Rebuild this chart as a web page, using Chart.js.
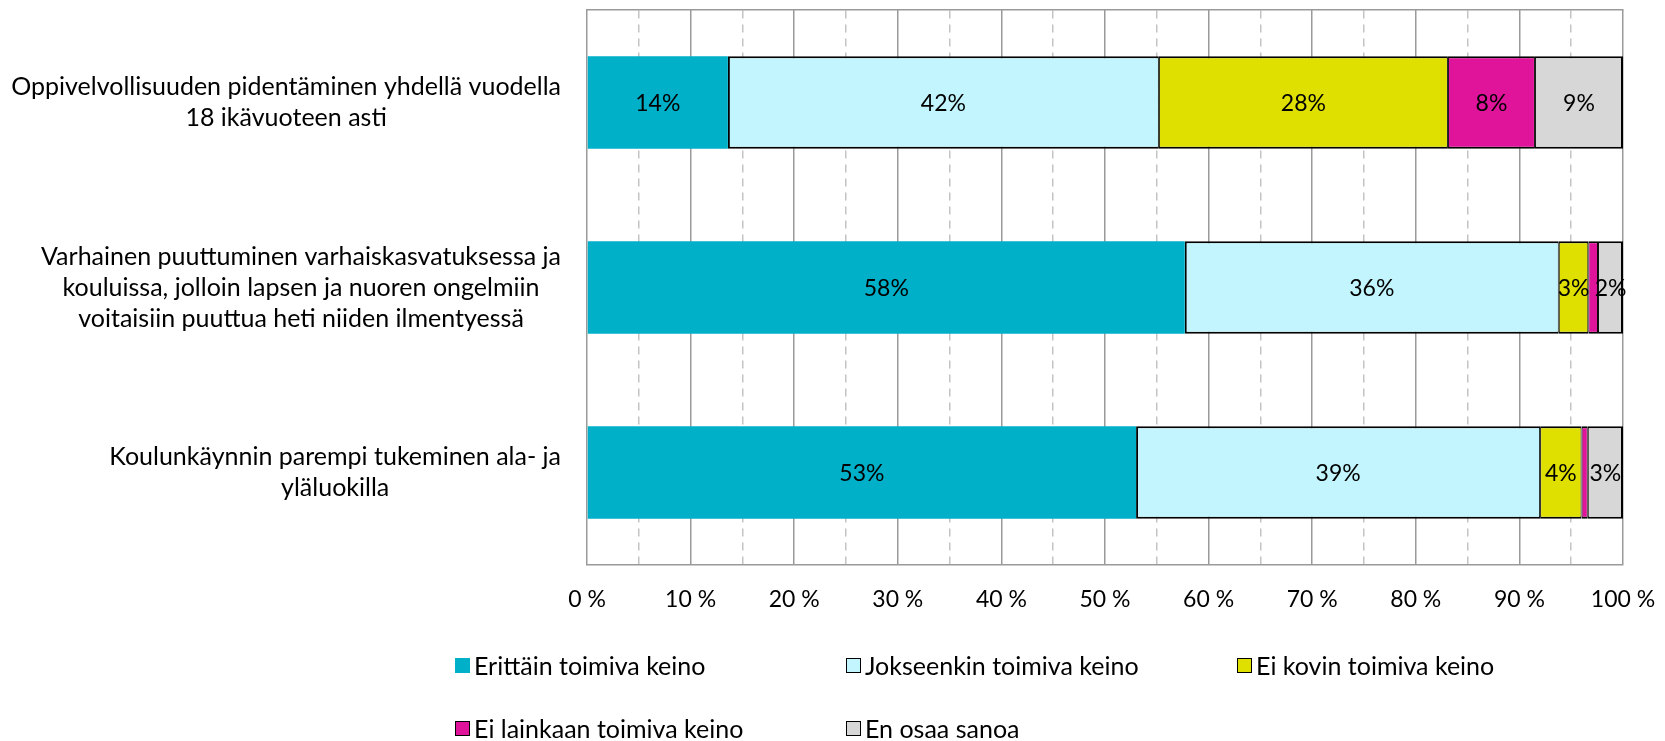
<!DOCTYPE html>
<html>
<head>
<meta charset="utf-8">
<script src="https://cdn.jsdelivr.net/npm/chart.js@4.4.1/dist/chart.umd.min.js"></script>
<style>
  html, body { margin: 0; padding: 0; background: #fff; }
  #wrap { position: relative; width: 1665px; height: 741px; }
  #c { position: absolute; left: 0; top: 0; }
  #legend { position: absolute; left: 455px; top: 650px; display: grid;
            grid-template-columns: 391px 391px 391px; grid-auto-rows: 63px;
            font-family: Lato, "Open Sans", sans-serif; font-size: 25px; color: #000; }
  .item { display: flex; align-items: center; height: 30px; }
  .sw { width: 15px; height: 15px; box-sizing: border-box; margin-right: 4px; }
</style>
</head>
<body>
<div id="wrap">
  <canvas id="c" width="1665" height="741"></canvas>
  <div id="legend"></div>
</div>
<script>
const categories = [
  ['Oppivelvollisuuden pidentäminen yhdellä vuodella', '18 ikävuoteen asti'],
  ['Varhainen puuttuminen varhaiskasvatuksessa ja', 'kouluissa, jolloin lapsen ja nuoren ongelmiin', 'voitaisiin puuttua heti niiden ilmentyessä'],
  ['Koulunkäynnin parempi tukeminen ala- ja', 'yläluokilla']
];
const seriesNames = ['Erittäin toimiva keino', 'Jokseenkin toimiva keino', 'Ei kovin toimiva keino', 'Ei lainkaan toimiva keino', 'En osaa sanoa'];
const erittain   = [13.6, 57.7, 53.0];
const jokseenkin = [41.6, 36.1, 39.0];
const eiKovin    = [27.9, 2.85, 4.0];
const eiLainkaan = [8.4, 0.94, 0.6];
const enOsaa     = [8.5, 2.41, 3.4];
const xTicks = [0, 10, 20, 30, 40, 50, 60, 70, 80, 90, 100];

const colors = ['#00AFC8', '#C2F5FD', '#DFE000', '#E0139B', '#D7D7D7'];
const borders = [null, '#000', '#000', '#000', '#000'];
const borderWidths = [
  0,
  { top: 2, bottom: 2, left: 2, right: 1 },
  { top: 2, bottom: 2, left: 1, right: 1 },
  { top: 2, bottom: 2, left: 1, right: 1 },
  { top: 2, bottom: 2, left: 1, right: 2 }
];
const FONT_FAMILY = 'Lato, "Open Sans", sans-serif';
const CAT_FONT_SIZE = 25;
const VAL_FONT_SIZE = 23;
const seriesValues = [erittain, jokseenkin, eiKovin, eiLainkaan, enOsaa];

const datasets = seriesValues.map((vals, i) => ({
  label: seriesNames[i],
  data: vals,
  backgroundColor: colors[i],
  borderColor: borders[i] || colors[i],
  borderWidth: borderWidths[i],
  borderSkipped: false,
  xAxisID: 'x',
  barPercentage: 0.5,
  categoryPercentage: 1.0
}));

const catLabelPlugin = {
  id: 'catLabels',
  afterDraw(chart) {
    const ctx = chart.ctx, ys = chart.scales.y, area = chart.chartArea;
    ctx.save();
    ctx.font = CAT_FONT_SIZE + 'px ' + FONT_FAMILY;
    ctx.fillStyle = '#000';
    ctx.textAlign = 'center';
    ctx.textBaseline = 'middle';
    const lh = 31;
    categories.forEach((lines, i) => {
      const w = Math.max(...lines.map(l => ctx.measureText(l).width));
      const cx = area.left - 26 - w / 2;
      const cy = ys.getPixelForValue(i);
      lines.forEach((l, j) => ctx.fillText(l, cx, cy + (j - (lines.length - 1) / 2) * lh));
    });
    ctx.restore();
  }
};

const dataLabelPlugin = {
  id: 'dataLabels',
  afterDatasetsDraw(chart) {
    const ctx = chart.ctx;
    ctx.save();
    ctx.font = VAL_FONT_SIZE + 'px ' + FONT_FAMILY;
    ctx.fillStyle = '#000';
    ctx.textAlign = 'center';
    ctx.textBaseline = 'middle';
    chart.data.datasets.forEach((ds, di) => {
      const meta = chart.getDatasetMeta(di);
      meta.data.forEach((bar, i) => {
        const v = ds.data[i];
        if (v < 1.5) return;
        const p = bar.getCenterPoint();
        ctx.fillText(Math.round(v) + '%', p.x, p.y + 1);
      });
    });
    ctx.restore();
  }
};

new Chart(document.getElementById('c'), {
  type: 'bar',
  data: { labels: categories.map(c => c.join(' ')), datasets },
  options: {
    indexAxis: 'y',
    responsive: false,
    animation: false,
    layout: { padding: { left: 587, right: 42, top: 10, bottom: 0 } },
    plugins: { legend: { display: false }, tooltip: { enabled: false } },
    scales: {
      y: { display: false, stacked: true },
      x: {
        stacked: true, min: 0, max: 100, position: 'bottom',
        afterBuildTicks(scale) { scale.ticks = xTicks.map(v => ({ value: v })); },
        afterFit(scale) { scale.height = 176; },
        ticks: { callback: v => v + ' %', color: '#000', padding: 0,
                 font: { family: FONT_FAMILY, size: VAL_FONT_SIZE } },
        grid: { color: '#9a9a9a', lineWidth: 1.5, drawTicks: true, tickLength: 21,
                tickColor: 'rgba(0,0,0,0)' },
        border: { display: true, color: '#9a9a9a', width: 1.5 }
      },
      x2: {
        min: 0, max: 100, position: 'top',
        ticks: { display: false, stepSize: 5 },
        grid: { drawTicks: false, lineWidth: 1.5,
                color: ctx => (ctx.tick && ctx.tick.value % 10 === 5) ? '#c4c4c4' : 'rgba(0,0,0,0)' },
        border: { display: true, color: '#9a9a9a', width: 1.5, dash: [8, 6] }
      }
    }
  },
  plugins: [catLabelPlugin, dataLabelPlugin]
});

const legend = document.getElementById('legend');
seriesNames.forEach((name, i) => {
  const it = document.createElement('div');
  it.className = 'item';
  const sw = document.createElement('span');
  sw.className = 'sw';
  sw.style.background = colors[i];
  sw.style.border = '1px solid ' + (borders[i] || colors[i]);
  it.appendChild(sw);
  it.appendChild(document.createTextNode(name));
  legend.appendChild(it);
});
</script>
</body>
</html>
